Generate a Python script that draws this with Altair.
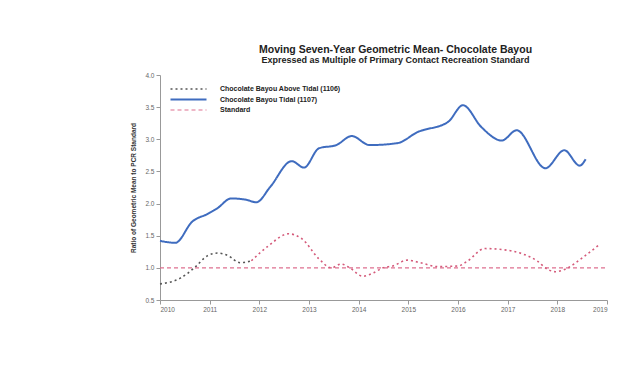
import altair as alt
import pandas as pd

title_text = "Moving Seven-Year Geometric Mean- Chocolate Bayou"
subtitle_text = "Expressed as Multiple of Primary Contact Recreation Standard"
y_title = "Ratio of Geometric Mean to PCR Standard"
series_names = ["Chocolate Bayou Above Tidal (1106)", "Chocolate Bayou Tidal (1107)", "Standard"]
x_ticks = list(range(2010, 2020))
y_ticks = [0.5, 1.0, 1.5, 2.0, 2.5, 3.0, 3.5, 4.0]

tidal_years = [2010.0, 2010.31, 2010.65, 2010.96, 2011.16, 2011.43, 2011.73, 2011.94,
               2012.22, 2012.65, 2012.90, 2013.20, 2013.55, 2013.86, 2014.22, 2014.78,
               2015.18, 2015.80, 2016.10, 2016.47, 2016.88, 2017.18, 2017.76, 2018.14,
               2018.45, 2018.57]
tidal_values = [1.42, 1.39, 1.72, 1.84, 1.93, 2.08, 2.06, 2.02,
                2.26, 2.66, 2.56, 2.86, 2.91, 3.05, 2.91, 2.94,
                3.11, 3.27, 3.53, 3.19, 2.98, 3.14, 2.55, 2.83,
                2.59, 2.69]

above_years = [2010.0, 2010.41, 2010.69, 2010.96, 2011.16, 2011.37, 2011.61, 2011.84]
above_values = [0.75, 0.84, 1.0, 1.19, 1.23, 1.19, 1.08, 1.11]

above_later_years = [2011.84, 2012.18, 2012.59, 2012.86, 2013.2, 2013.45, 2013.65, 2013.82,
                     2014.08, 2014.29, 2014.49, 2014.69, 2014.98, 2015.24, 2015.59, 2016.0,
                     2016.2, 2016.53, 2016.94, 2017.29, 2017.59, 2017.8, 2017.96, 2018.16,
                     2018.51, 2018.86]
above_later_values = [1.11, 1.34, 1.53, 1.45, 1.14, 1.0, 1.06, 1.0,
                      0.87, 0.92, 1.0, 1.03, 1.12, 1.08, 1.02, 1.03,
                      1.11, 1.30, 1.28, 1.22, 1.11, 0.98, 0.94, 0.98,
                      1.16, 1.37]

standard_years = [2010, 2019]
standard_values = [1.0, 1.0]

rows = []
for yr, v in zip(above_years, above_values):
    rows.append({"year": yr, "value": v, "series": series_names[0]})
for yr, v in zip(tidal_years, tidal_values):
    rows.append({"year": yr, "value": v, "series": series_names[1]})
for yr, v in zip(standard_years, standard_values):
    rows.append({"year": yr, "value": v, "series": series_names[2]})
df = pd.DataFrame(rows)
later = pd.DataFrame({"year": above_later_years, "value": above_later_values})

colors = ["#555555", "#3f6cbf", "#de7090"]
dashes = [[2, 3], [1, 0], [4, 3]]

x_axis = alt.Axis(values=x_ticks, format="d", title=None, grid=False, labelOverlap=False)
y_axis = alt.Axis(values=y_ticks, format=".1f", title=y_title, grid=False, labelOverlap=False,
                  titleFontSize=6.5, titleFontWeight="bold", titleColor="#333", titlePadding=8)
x_scale = alt.Scale(domain=[2010, 2019], nice=False, zero=False)
y_scale = alt.Scale(domain=[0.5, 4.0], nice=False, zero=False)

main = alt.Chart(df).mark_line(interpolate="monotone").encode(
    x=alt.X("year:Q", scale=x_scale, axis=x_axis),
    y=alt.Y("value:Q", scale=y_scale, axis=y_axis),
    color=alt.Color("series:N", scale=alt.Scale(domain=series_names, range=colors),
                    legend=alt.Legend(title=None, orient="none", legendX=23.5, legendY=9,
                                      symbolType="M-4.5,0H4.5", symbolSize=64,
                                      symbolStrokeWidth=1.4, labelFontSize=7,
                                      labelFontWeight="bold", labelColor="#222",
                                      rowPadding=1.5, labelLimit=300, labelOffset=26.5)),
    strokeDash=alt.StrokeDash("series:N", scale=alt.Scale(domain=series_names, range=dashes)),
    strokeWidth=alt.StrokeWidth("series:N",
                                scale=alt.Scale(type="ordinal", domain=series_names, range=[1.6, 2.0, 1.1]),
                                legend=None),
)

later_line = alt.Chart(later).mark_line(interpolate="monotone", strokeWidth=1.6,
                                        color="#d45a7a", strokeDash=[2, 3]).encode(
    x=alt.X("year:Q", scale=x_scale, axis=x_axis),
    y=alt.Y("value:Q", scale=y_scale, axis=y_axis))

chart = alt.layer(main, later_line).properties(
    width=447, height=225,
    title=alt.TitleParams(text=title_text, subtitle=subtitle_text, anchor="middle",
                          fontSize=10.5, subtitleFontSize=9, fontWeight="bold",
                          subtitleFontWeight="bold", color="#222", subtitleColor="#222",
                          font="Liberation Sans", subtitleFont="Liberation Sans",
                          subtitlePadding=1, offset=7, dx=12),
    autosize=alt.AutoSizeParams(type="none"),
    padding={"left": 152, "top": 67, "right": 24, "bottom": 50},
    background="white",
).configure_view(stroke=None).configure_axis(
    domainColor="#999", tickColor="#999", labelColor="#666", labelFontSize=6.5,
    tickSize=4, labelFont="Liberation Sans", titleFont="Liberation Sans"
)

chart.save("out.html", embed_options={"renderer": "svg", "actions": False})
